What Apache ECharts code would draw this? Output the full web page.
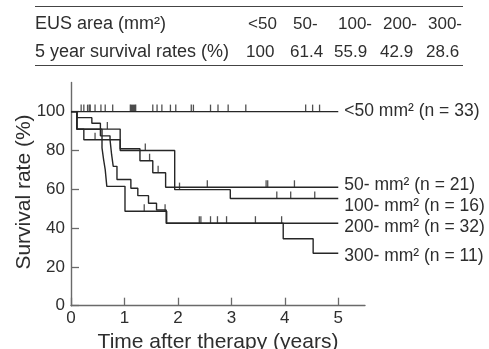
<!DOCTYPE html>
<html><head><meta charset="utf-8">
<script src="https://cdn.jsdelivr.net/npm/echarts@6/dist/echarts.min.js"></script>
<style>html,body{margin:0;padding:0;background:#fff}#c{width:489px;height:349px}</style>
</head><body><div id="c"></div>
<script>
// ---- data ----
const eusAreas = ['<50', '50-', '100-', '200-', '300-'];
const survival5y = ['100', '61.4', '55.9', '42.9', '28.6'];
const tableHeaders = ['EUS area (mm²)', '5 year survival rates (%)'];
const groupLabels = ['<50 mm² (n = 33)', '50- mm² (n = 21)', '100- mm² (n = 16)', '200- mm² (n = 32)', '300- mm² (n = 11)'];
const xTicks = [0, 1, 2, 3, 4, 5];
const yTicks = [0, 20, 40, 60, 80, 100];

// Kaplan-Meier step points [time (years), survival %]
const km_lt50 = [[0, 100], [5, 100]];
const km_50 = [[0, 100], [0.11, 91], [0.92, 80.9], [1.29, 74.7], [1.53, 68.5], [1.77, 61], [5, 61]];
const km_100 = [[0, 100], [0.11, 91], [0.24, 85.5], [0.92, 80], [1.94, 59.8], [2.98, 55.2], [5, 55.2]];
const km_200 = [[0, 100], [0.11, 96.9], [0.39, 94], [0.55, 87.5], [0.73, 85.6], [0.76, 77.8], [0.79, 71.8], [0.86, 65], [1.12, 60.5], [1.25, 56.7], [1.45, 52.8], [1.6, 49.3], [1.78, 42.5], [5, 42.5]];
const km_300 = [[0, 100], [0.11, 90.9], [0.58, 81.3], [0.61, 75.3], [0.64, 70.1], [0.67, 61.5], [1.01, 48.7], [1.79, 42.5], [3.97, 34.5], [4.53, 27], [5, 27]];

// censored observations [time, survival %]
const cens_lt50 = [[0.19,100],[0.24,100],[0.31,100],[0.34,100],[0.36,100],[0.45,100],[0.56,100],[0.64,100],[0.78,100],
  [1.11,100],[1.13,100],[1.15,100],[1.17,100],[1.19,100],[1.21,100],[1.53,100],[1.61,100],[1.70,100],[1.86,100],[1.96,100],
  [2.25,100],[2.29,100],[2.61,100],[2.75,100],[2.94,100],[3.27,100],[4.39,100],[4.52,100],[4.65,100]];
const cens_50 = [[0.68,91],[1.47,74.7],[1.63,68.5],[2.55,61],[3.65,61],[3.68,61],[4.18,61]];
const cens_100 = [[0.45,85.5],[1.39,80],[2.03,59.8],[3.85,55.2],[4.11,55.2],[4.56,55.2]];
const cens_200 = [[2.40,42.5],[2.43,42.5],[2.61,42.5],[2.74,42.5],[2.91,42.5],[3.45,42.5],[3.94,42.5]];
const cens_300 = [[1.37,48.7],[1.76,48.7]];

// ---- chart ----
const LINE = '#262626';
const AXIS = '#6a6a6a';
const TXT = '#2e2e2e';
const FONT = '"Liberation Sans", Arial, sans-serif';

const curves = [km_lt50, km_50, km_100, km_200, km_300];
const censors = [cens_lt50, cens_50, cens_100, cens_200, cens_300];
const labelOffsets = [[-2, 0], [-2, -2.5], [-2, 7.5], [-2, 3.5], [-2, 3]];

const series = [];
curves.forEach((d, i) => {
  series.push({
    type: 'line', name: groupLabels[i], data: d, step: 'end', symbol: 'none',
    lineStyle: { color: LINE, width: 1.4 }, silent: true, animation: false,
    endLabel: { show: true, formatter: groupLabels[i], offset: labelOffsets[i],
      fontSize: 17.5, fontFamily: FONT, color: TXT }
  });
  series.push({
    type: 'scatter', data: censors[i], symbol: 'rect', symbolSize: [1.3, 7], symbolOffset: [0, -3.5],
    itemStyle: { color: LINE }, silent: true, animation: false
  });
});

// table graphics
const colX1 = [248, 293, 338, 383, 428];
const colX2 = [246, 290, 334, 380, 426];
const TFONT = '17px ' + FONT;
const HFONT = '18px ' + FONT;
const graphic = [
  { type: 'line', shape: { x1: 35, y1: 6.5, x2: 463, y2: 6.5 }, style: { stroke: '#444', lineWidth: 1.2 } },
  { type: 'line', shape: { x1: 35, y1: 65.5, x2: 463, y2: 65.5 }, style: { stroke: '#444', lineWidth: 1.2 } },
  { type: 'text', style: { x: 35, y: 24, text: tableHeaders[0], font: HFONT, fill: TXT, verticalAlign: 'middle' } },
  { type: 'text', style: { x: 35, y: 52.5, text: tableHeaders[1], font: HFONT, fill: TXT, verticalAlign: 'middle' } },
  { type: 'text', x: 24, y: 192, rotation: Math.PI / 2,
    style: { text: 'Survival rate (%)', font: '21px ' + FONT, fill: TXT, align: 'center', verticalAlign: 'middle' } }
];
eusAreas.forEach((a, i) => {
  graphic.push({ type: 'text', style: { x: colX1[i], y: 24, text: a, font: TFONT, fill: TXT, verticalAlign: 'middle' } });
  graphic.push({ type: 'text', style: { x: colX2[i], y: 52.5, text: survival5y[i], font: TFONT, fill: TXT, verticalAlign: 'middle' } });
});

const chart = echarts.init(document.getElementById('c'), null, { renderer: 'canvas' });
chart.setOption({
  animation: false,
  grid: { left: 71, right: 124, top: 82.5, bottom: 43.3, containLabel: false, outerBoundsMode: 'none' },
  xAxis: {
    type: 'value', min: 0, max: 5.5,
    name: 'Time after therapy (years)', nameLocation: 'middle', nameGap: 23,
    nameTextStyle: { fontSize: 21, fontFamily: FONT, color: TXT },
    axisLine: { show: true, lineStyle: { color: AXIS, width: 1.4 } },
    axisTick: { show: true, inside: true, length: 8, customValues: xTicks, lineStyle: { color: AXIS, width: 1.3 } },
    axisLabel: { customValues: xTicks, fontSize: 17, fontFamily: FONT, color: TXT, margin: 4 },
    splitLine: { show: false }
  },
  yAxis: {
    type: 'value', min: 0, max: 115,
    axisLine: { show: true, onZero: false, lineStyle: { color: AXIS, width: 1.4 } },
    axisTick: { show: true, inside: true, length: 8, customValues: yTicks, lineStyle: { color: AXIS, width: 1.3 } },
    axisLabel: { customValues: yTicks, fontSize: 17, fontFamily: FONT, color: TXT, margin: 6 },
    splitLine: { show: false }
  },
  graphic: graphic,
  series: series
});
</script></body></html>
